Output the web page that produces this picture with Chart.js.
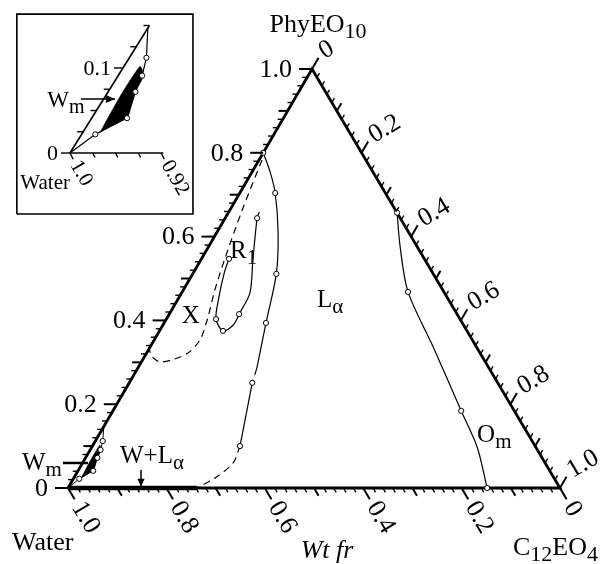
<!DOCTYPE html>
<html>
<head>
<meta charset="utf-8">
<script src="https://cdn.jsdelivr.net/npm/chart.js@4.4.1/dist/chart.umd.min.js"></script>
<style>
  html, body { margin: 0; padding: 0; background: #fff; }
  canvas { display: block; }
</style>
</head>
<body>
<canvas id="chart" width="602" height="564"></canvas>
<script>
// all compositions as [PhyEO10, C12EO4] weight fractions, water = the rest
const frame = [[0, 0], [0, 1], [1, 0], [0, 0]];
const twoPhaseWLa = [[0, 0], [0, 0.262]];

const laUpper = [[0.800, 0.000], [0.754, 0.037], [0.704, 0.072], [0.609, 0.125], [0.511, 0.170], [0.394, 0.207], [0.286, 0.242]];
const laGap = [[0.286, 0.242], [0.251, 0.250]];
const laLower = [[0.251, 0.250], [0.100, 0.300]];
const laTail = [[0.100, 0.300], [0.060, 0.306], [0.024, 0.287], [0.000, 0.262]];
const laSamples = [[0.800, 0.000], [0.704, 0.072], [0.511, 0.170], [0.394, 0.207], [0.251, 0.250], [0.100, 0.300]];

const r1Loop = [[0.659, 0.062], [0.644, 0.065], [0.544, 0.106], [0.465, 0.139], [0.415, 0.142], [0.389, 0.143],
  [0.375, 0.129], [0.403, 0.101], [0.449, 0.083], [0.513, 0.063], [0.547, 0.056]];
const r1Samples = [[0.644, 0.065], [0.415, 0.142], [0.375, 0.129], [0.403, 0.101], [0.547, 0.056]];

const xBoundary = [[0.783, 0.006], [0.664, 0.025], [0.549, 0.047], [0.473, 0.064], [0.401, 0.084], [0.353, 0.093],
  [0.322, 0.084], [0.306, 0.060], [0.301, 0.038], [0.313, 0.016], [0.332, 0.000]];

const omBoundary = [[0.657, 0.343], [0.575, 0.390], [0.468, 0.459], [0.337, 0.575], [0.184, 0.708], [0.098, 0.783], [0.000, 0.852]];
const omSamples = [[0.657, 0.343], [0.468, 0.459], [0.184, 0.708], [0.000, 0.852]];

const wmBoundary = [[0, 0], [0.022, 0.012], [0.041, 0.031], [0.072, 0.024], [0.091, 0.021], [0.112, 0.015], [0.147, 0.000]];
const wmSamples = [[0.022, 0.012], [0.041, 0.031], [0.072, 0.024], [0.091, 0.021], [0.112, 0.015]];
const wmRegion = [[0.025, 0.015], [0.066, 0.013], [0.102, 0.014], [0.095, 0.020], [0.086, 0.023], [0.071, 0.024],
  [0.042, 0.031], [0.036, 0.025], [0.024, 0.015]];

const mainTicks = [0, 0.2, 0.4, 0.6, 0.8, 1.0];
const mainTickLabels = ['0', '0.2', '0.4', '0.6', '0.8', '1.0'];
const insetPTicks = [0, 0.025, 0.05, 0.075, 0.1, 0.125, 0.15];
const insetPLabels = { 0: '0', 0.1: '0.1' };
const insetCTicks = [0, 0.02, 0.04, 0.06, 0.08];
const insetWaterLabels = { 0: '1.0', 0.08: '0.92' };

const SERIF = '"Liberation Serif", "Times New Roman", serif';

// ternary -> chart space (apex sits a bit left of the base midpoint in this drawing)
const APEX = 0.496;
const T = (p, c) => ({ x: c + APEX * p, y: p });
// the magnified corner in the inset
const INSET = { x0: 0.004, y0: 0.7995, kc: 2.317, kp: 1.077, ky: 2.029 };
const TI = (p, c) => ({ x: INSET.x0 + INSET.kc * c + INSET.kp * p, y: INSET.y0 + INSET.ky * p });
const toMain = pts => pts.map(([p, c]) => T(p, c));
const toInset = pts => pts.map(([p, c]) => TI(p, c));

function curve(data, opts = {}) {
  return Object.assign({
    data, showLine: true, borderColor: '#000', borderWidth: 1.2, pointRadius: 0,
    fill: false, tension: 0.3, order: 2, clip: false,
  }, opts);
}
function dots(data) {
  return {
    data, showLine: false, pointRadius: 2.6, pointBorderWidth: 1,
    pointBackgroundColor: '#fff', pointBorderColor: '#000', order: 0, clip: false,
  };
}
function region(data) {
  return curve(data, { borderWidth: 0.5, backgroundColor: '#000', fill: 'shape', tension: 0.2, order: 3 });
}

const DASH = [7, 5];
const insetBox = [[-0.104, 0.654], [0.254, 0.654], [0.254, 1.131], [-0.104, 1.131], [-0.104, 0.654]];

function unit(a, b) {
  const dx = b[0] - a[0], dy = b[1] - a[1], l = Math.hypot(dx, dy);
  return [dx / l, dy / l];
}
function seg(ctx, a, b, w) {
  ctx.lineWidth = w;
  ctx.beginPath();
  ctx.moveTo(a[0], a[1]);
  ctx.lineTo(b[0], b[1]);
  ctx.stroke();
}
function rich(ctx, parts, x, y, size, align, subRatio = 0.78) {
  const fontFor = sub => `${sub ? Math.round(size * subRatio) : size}px ${SERIF}`;
  let w = 0;
  for (const [s, sub] of parts) {
    ctx.font = fontFor(sub);
    w += ctx.measureText(s).width;
  }
  let cx = align === 'center' ? x - w / 2 : x;
  ctx.textAlign = 'left';
  ctx.textBaseline = 'alphabetic';
  for (const [s, sub] of parts) {
    ctx.font = fontFor(sub);
    ctx.fillText(s, cx, sub ? y + size * 0.24 : y);
    cx += ctx.measureText(s).width;
  }
}
function rotated(ctx, text, at, angle, size) {
  ctx.save();
  ctx.translate(at[0], at[1]);
  ctx.rotate(angle);
  ctx.font = `${size}px ${SERIF}`;
  ctx.textAlign = 'left';
  ctx.textBaseline = 'middle';
  ctx.fillText(text, 0, 0);
  ctx.restore();
}
function arrow(ctx, a, b, head) {
  seg(ctx, a, b, 1.5);
  const d = unit(a, b), n = [-d[1], d[0]];
  ctx.beginPath();
  ctx.moveTo(b[0], b[1]);
  ctx.lineTo(b[0] - d[0] * head + n[0] * head * 0.45, b[1] - d[1] * head + n[1] * head * 0.45);
  ctx.lineTo(b[0] - d[0] * head - n[0] * head * 0.45, b[1] - d[1] * head - n[1] * head * 0.45);
  ctx.closePath();
  ctx.fill();
}

const ternaryAxes = {
  id: 'ternaryAxes',
  afterDatasetsDraw(chart) {
    const { ctx } = chart;
    const xs = chart.scales.x, ys = chart.scales.y;
    const pix = pt => [xs.getPixelForValue(pt.x), ys.getPixelForValue(pt.y)];
    ctx.save();
    ctx.strokeStyle = '#000';
    ctx.fillStyle = '#000';

    const O = pix(T(0, 0)), A = pix(T(1, 0)), C = pix(T(0, 1));
    const dirBottom = unit(A, C);
    const dirRight = unit(O, A);
    const angBottom = Math.atan2(dirBottom[1], dirBottom[0]);

    for (let i = 0; i <= 50; i++) {
      const f = i / 50;
      const len = i % 10 === 0 ? 13 : i % 5 === 0 ? 9 : 5;
      const w = i % 5 === 0 ? 2 : 1.4;
      const pl = pix(T(f, 0));
      seg(ctx, pl, [pl[0] - len, pl[1]], w);
      const pb = pix(T(0, f));
      seg(ctx, pb, [pb[0] + dirBottom[0] * len, pb[1] + dirBottom[1] * len], w);
      const pr = pix(T(1 - f, f));
      seg(ctx, pr, [pr[0] + dirRight[0] * len, pr[1] + dirRight[1] * len], w);
    }

    mainTicks.forEach((v, i) => {
      const lbl = mainTickLabels[i];
      // PhyEO10 (left)
      const pl = pix(T(v, 0));
      ctx.font = `26px ${SERIF}`;
      ctx.textAlign = 'right';
      ctx.textBaseline = 'middle';
      ctx.fillText(lbl, pl[0] - 20, pl[1] + 1);
      // water (bottom), labelled 1 - c
      const pb = pix(T(0, 1 - v));
      rotated(ctx, lbl, [pb[0] + dirBottom[0] * 18, pb[1] + dirBottom[1] * 18], angBottom, 26);
      // C12EO4 (right)
      const pr = pix(T(1 - v, v));
      rotated(ctx, lbl, [pr[0] + dirRight[0] * 18, pr[1] + dirRight[1] * 18], angBottom - Math.PI / 2, 26);
    });

    // vertex names
    rich(ctx, [['PhyEO', 0], ['10', 1]], A[0] + 6, A[1] - 37, 26, 'center', 0.85);
    rich(ctx, [['Water', 0]], O[0] - 56, O[1] + 62, 26);
    rich(ctx, [['C', 0], ['12', 1], ['EO', 0], ['4', 1]], C[0] - 47, C[1] + 67, 26, 'left', 0.85);
    ctx.font = `italic 26px ${SERIF}`;
    ctx.textAlign = 'center';
    ctx.fillText('Wt fr', (O[0] + C[0]) / 2 + 13, C[1] + 70);

    // phase labels
    const at = (p, c) => pix(T(p, c));
    let q = at(0.432, 0.292); rich(ctx, [['L', 0], ['α', 1]], q[0], q[1], 25, 'left', 0.85);
    q = at(0.549, 0.057); rich(ctx, [['R', 0], ['1', 1]], q[0], q[1], 25, 'left', 0.85);
    q = at(0.394, 0.036); rich(ctx, [['X', 0]], q[0], q[1], 25);
    q = at(0.110, 0.777); rich(ctx, [['O', 0], ['m', 1]], q[0], q[1], 25, 'left', 0.85);
    q = at(0.060, 0.076); rich(ctx, [['W+L', 0], ['α', 1]], q[0], q[1], 25, 'left', 0.85);
    q = at(0.043, -0.115); rich(ctx, [['W', 0], ['m', 1]], q[0], q[1], 25, 'left', 0.85);
    seg(ctx, at(0.0597, -0.040), at(0.0597, 0.011), 2.5);
    arrow(ctx, at(0.043, 0.127), at(0.003, 0.147), 8);

    // inset axes
    const io = pix(TI(0, 0));
    seg(ctx, io, pix(TI(0.15, 0)), 1.6);
    seg(ctx, io, pix(TI(0, 0.082)), 1.6);
    insetPTicks.forEach(v => {
      const p = pix(TI(v, 0));
      const lbl = insetPLabels[v];
      seg(ctx, p, [p[0] - (lbl ? 9 : 6), p[1]], 1.4);
      if (lbl) {
        ctx.font = `22px ${SERIF}`;
        ctx.textAlign = 'right';
        ctx.textBaseline = 'middle';
        ctx.fillText(lbl, p[0] - 12, p[1] + 1);
      }
    });
    const dIn = [Math.cos(1.1), Math.sin(1.1)];
    insetCTicks.forEach(v => {
      const p = pix(TI(0, v));
      const lbl = insetWaterLabels[v];
      const len = lbl ? 7 : 5;
      seg(ctx, p, [p[0] + dIn[0] * len, p[1] + dIn[1] * len], 1.4);
      if (lbl) rotated(ctx, lbl, [p[0] + dIn[0] * 10, p[1] + dIn[1] * 10], 1.05, 21);
    });
    const ia = (p, c) => pix(TI(p, c));
    q = ia(-0.042, -0.024); rich(ctx, [['Water', 0]], q[0], q[1], 21);
    q = ia(0.054, -0.045); rich(ctx, [['W', 0], ['m', 1]], q[0], q[1], 23, 'left', 0.85);
    arrow(ctx, ia(0.0635, -0.020), ia(0.0635, 0.0099), 9);

    ctx.restore();
  }
};

new Chart(document.getElementById('chart'), {
  type: 'scatter',
  data: {
    datasets: [
      dots(toMain([...laSamples, ...r1Samples, ...omSamples, ...wmSamples])),
      dots(toInset(wmSamples)),
      curve(toMain(frame), { borderWidth: 2.8, tension: 0 }),
      curve(toMain(twoPhaseWLa), { borderWidth: 4.5, tension: 0 }),
      curve(toMain(laUpper)),
      curve(toMain(laGap), { borderDash: DASH }),
      curve(toMain(laLower), { tension: 0 }),
      curve(toMain(laTail), { borderDash: DASH }),
      curve(toMain(r1Loop)),
      curve(toMain(xBoundary), { borderDash: DASH }),
      curve(toMain(omBoundary)),
      curve(toMain(wmBoundary), { tension: 0, borderWidth: 1 }),
      region(toMain(wmRegion)),
      curve(insetBox.map(([x, y]) => ({ x, y })), { borderWidth: 1.6, tension: 0 }),
      curve(toInset(wmBoundary), { tension: 0, borderWidth: 1.2 }),
      region(toInset(wmRegion)),
    ],
  },
  options: {
    responsive: false,
    animation: false,
    events: [],
    layout: { padding: 0, autoPadding: false },
    plugins: { legend: { display: false }, tooltip: { enabled: false } },
    scales: {
      x: { type: 'linear', min: -0.1382, max: 1.0854, display: false },
      y: { type: 'linear', min: -0.1814, max: 1.1647, display: false },
    },
  },
  plugins: [ternaryAxes],
});
</script>
</body>
</html>
